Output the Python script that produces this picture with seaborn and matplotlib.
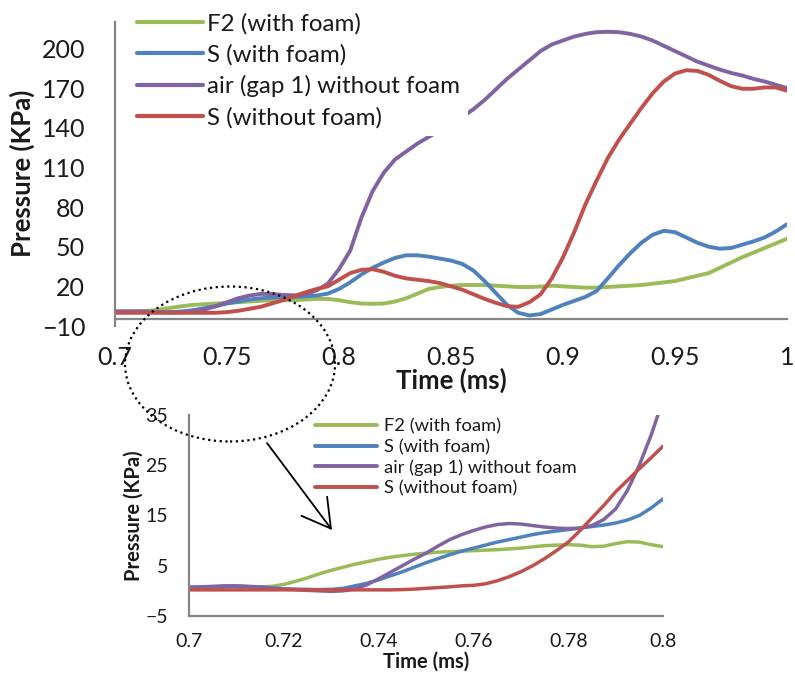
import numpy as np
import pandas as pd
import matplotlib
matplotlib.use("Agg")
import matplotlib.pyplot as plt
from matplotlib.patches import Ellipse
import seaborn as sns

# ---- main chart: 0.700 - 1.000 ms, sampled every 0.005 ms ----
time_main = np.round(np.arange(0.700, 1.0001, 0.005), 3)
f2_foam_main = [0.5, 0.6, 0.8, 1.5, 2.5, 3.8, 5, 6, 6.5, 7,
                7.5, 8, 8.5, 9, 9.5, 9.5, 9.5, 10, 10.5, 10.5,
                9.5, 8, 7, 6.8, 7, 8.5, 11, 14.5, 18, 19.5,
                20.5, 21, 21, 21, 20.5, 20, 19.5, 19.5, 19.8, 20.5,
                20, 19.5, 19, 19, 19.5, 20, 20.5, 21, 22, 23,
                24, 26, 28, 30, 34, 38, 42, 45.5, 49, 52.5,
                56]
s_foam_main = [1, 1, 1, 0.8, 0.5, 0.5, 1, 2, 3.5, 5,
               7, 8.5, 10, 11, 11.5, 12, 12, 12.5, 13, 14.5,
               18, 23, 29, 34, 38, 41.5, 43.5, 43.5, 42.5, 41,
               39.5, 37, 32, 24, 15, 6, 0, -2, -1, 2.5,
               6, 9, 12, 16.5, 26, 36, 45, 53, 59, 62,
               61, 57, 53, 50, 48.5, 49, 51.5, 54, 57, 61.5,
               67]
air_nofoam_main = [1, 1, 1, 0.8, 0.5, 0.3, 0.3, 0.8, 2.5, 5,
                   8, 11, 13, 14.3, 14.2, 13.5, 13.2, 14, 17, 22,
                   33, 47, 72, 92, 106, 116, 122, 128, 133, 138,
                   143, 148, 154, 161, 169, 177, 184, 191, 198, 203,
                   206, 209, 211, 212.3, 212.6, 212.3, 211, 209, 206, 202,
                   198, 194, 190, 187, 184, 181.5, 179.5, 177, 175, 172.5,
                   170]
s_nofoam_main = [0, 0, 0, 0, 0, 0, 0, 0, 0, 0,
                 0.5, 1.5, 3, 4.5, 7, 9.5, 12.5, 15.5, 18, 20,
                 25, 30, 32.5, 33, 31, 28, 26, 25, 24, 22.5,
                 20, 17.5, 14, 10.5, 7.5, 5, 4.5, 8, 14, 26,
                 42, 61, 82, 100, 117, 131, 143, 155, 166, 175,
                 181, 183.5, 183, 180, 175.5, 171.5, 169.5, 169.5, 170.5, 170.5,
                 168]

# ---- detail chart: 0.700 - 0.800 ms, sampled every 0.0025 ms ----
time_zoom = np.round(np.arange(0.700, 0.80001, 0.0025), 4)
f2_foam_zoom = [0.7, 0.75, 0.8, 0.85, 0.9, 0.85, 0.8, 0.9, 1.3, 1.9,
                2.6, 3.4, 4.1, 4.7, 5.3, 5.8, 6.3, 6.7, 7.0, 7.3,
                7.5, 7.7, 7.8, 7.9, 8.0, 8.1, 8.2, 8.35, 8.5, 8.75,
                9.0, 9.1, 9.2, 9.1, 8.8, 8.9, 9.4, 9.8, 9.7, 9.2,
                8.8]
s_foam_zoom = [0.7, 0.75, 0.8, 0.85, 0.9, 0.8, 0.6, 0.5, 0.4, 0.35,
               0.3, 0.25, 0.3, 0.5, 1.0, 1.5, 2.2, 3.0, 3.8, 4.7,
               5.6, 6.4, 7.2, 7.9, 8.5, 9.1, 9.7, 10.2, 10.7, 11.2,
               11.6, 11.9, 12.2, 12.5, 12.8, 13.1, 13.5, 14.1, 15.0, 16.5,
               18.3]
air_nofoam_zoom = [0.7, 0.8, 0.9, 1.0, 1.0, 0.9, 0.8, 0.6, 0.4, 0.25,
                   0.1, 0.0, -0.1, 0.0, 0.4, 1.2, 2.4, 3.7, 5.0, 6.3,
                   7.5, 8.9, 10.2, 11.2, 12.0, 12.7, 13.2, 13.4, 13.3, 13.0,
                   12.7, 12.5, 12.4, 12.5, 13.0, 14.2, 16.3, 20.0, 25.0, 31.0,
                   38.0]
s_nofoam_zoom = [0.2, 0.2, 0.2, 0.2, 0.2, 0.2, 0.2, 0.2, 0.2, 0.2,
                 0.2, 0.2, 0.2, 0.2, 0.2, 0.2, 0.2, 0.2, 0.25, 0.35,
                 0.5, 0.65, 0.8, 1.0, 1.1, 1.4, 2.0, 2.8, 3.8, 5.0,
                 6.4, 8.0, 9.7, 12.0, 14.5, 17.0, 19.7, 22.0, 24.3, 26.5,
                 28.8]

series_names = ["F2 (with foam)", "S (with foam)",
                "air (gap 1) without foam", "S (without foam)"]
series_colors = ["#9BBB59", "#4F81BD", "#8064A2", "#C0504D"]

main_yticks = [-10, 20, 50, 80, 110, 140, 170, 200]
main_xticks = [0.7, 0.75, 0.8, 0.85, 0.9, 0.95, 1.0]
main_xticklabels = ["0.7", "0.75", "0.8", "0.85", "0.9", "0.95", "1"]
zoom_yticks = [-5, 5, 15, 25, 35]
zoom_xticks = [0.7, 0.72, 0.74, 0.76, 0.78, 0.8]
zoom_xticklabels = ["0.7", "0.72", "0.74", "0.76", "0.78", "0.8"]


def long_form(t, cols):
    frames = []
    for name, vals in zip(series_names, cols):
        frames.append(pd.DataFrame({"time": t, "pressure": vals, "series": name}))
    return pd.concat(frames, ignore_index=True)


df_main = long_form(time_main, [f2_foam_main, s_foam_main, air_nofoam_main, s_nofoam_main])
df_zoom = long_form(time_zoom, [f2_foam_zoom, s_foam_zoom, air_nofoam_zoom, s_nofoam_zoom])
palette = dict(zip(series_names, series_colors))

sns.set_style("white")
plt.rcParams["font.family"] = ["Lato", "DejaVu Sans"]

W, H = 795, 675
fig = plt.figure(figsize=(W / 100, H / 100), dpi=100)


def px_axes(left, top, right, bottom):
    return fig.add_axes([left / W, 1 - bottom / H, (right - left) / W, (bottom - top) / H])


axis_grey = "#868686"
text_dark = "#1a1a1a"


def style_axes(ax, fs, xpad, ypad):
    for s in ("top", "right"):
        ax.spines[s].set_visible(False)
    for s in ("left", "bottom"):
        ax.spines[s].set_color(axis_grey)
        ax.spines[s].set_linewidth(1.6)
    ax.tick_params(axis="both", direction="in", length=6, width=1.6,
                   color=axis_grey, labelsize=fs, labelcolor=text_dark)
    ax.tick_params(axis="x", pad=xpad)
    ax.tick_params(axis="y", pad=ypad)
    ax.grid(False)
    ax.set_facecolor("none")


# ---- main chart ----
ax1 = px_axes(115, 22, 787, 326)
sns.lineplot(data=df_main, x="time", y="pressure", hue="series", palette=palette,
             hue_order=series_names, linewidth=2.8, legend=False, ax=ax1,
             estimator=None, sort=True)
ax1.set_xlim(0.7, 1.0)
ax1.set_ylim(-10, 220)
ax1.set_yticks(main_yticks)
ax1.set_xticks(main_xticks)
ax1.set_xticklabels(main_xticklabels)
ax1.spines["bottom"].set_position(("data", -5))
ax1.spines["left"].set_bounds(-10, 220)
style_axes(ax1, 18, 19, 21.5)
ax1.set_xlabel("Time (ms)", fontsize=18.5, fontweight="bold", color=text_dark)
ax1.set_ylabel("Pressure (KPa)", fontsize=18.5, fontweight="bold", color=text_dark)
ax1.xaxis.set_label_coords(0.5, -0.138)
ax1.yaxis.set_label_coords(-0.119, 0.502)

leg1 = ax1.legend(ax1.get_lines()[:4], series_names, loc="upper left",
                  bbox_to_anchor=(130 / W, 1 - 5.5 / H), bbox_transform=fig.transFigure,
                  fontsize=17.4, handlelength=2.7, handletextpad=0.2,
                  labelspacing=0.4, borderpad=0.3, borderaxespad=0,
                  frameon=True, fancybox=False, framealpha=1,
                  facecolor="white", edgecolor="none")
for ln in leg1.get_lines():
    ln.set_linewidth(3.0)
for t in leg1.get_texts():
    t.set_color(text_dark)

# ---- detail chart ----
ax2 = px_axes(189, 415, 663, 616)
sns.lineplot(data=df_zoom, x="time", y="pressure", hue="series", palette=palette,
             hue_order=series_names, linewidth=2.5, legend=False, ax=ax2,
             estimator=None, sort=True)
ax2.set_xlim(0.7, 0.8)
ax2.set_ylim(-5, 35)
ax2.set_yticks(zoom_yticks)
ax2.set_xticks(zoom_xticks)
ax2.set_xticklabels(zoom_xticklabels)
style_axes(ax2, 14, 12, 15)
ax2.set_xlabel("Time (ms)", fontsize=14.5, fontweight="bold", color=text_dark)
ax2.set_ylabel("Pressure (KPa)", fontsize=14.5, fontweight="bold", color=text_dark)
ax2.xaxis.set_label_coords(0.5, -0.178)
ax2.yaxis.set_label_coords(-0.095, 0.5)

leg2 = ax2.legend(ax2.get_lines()[:4], series_names, loc="upper left",
                  bbox_to_anchor=(309.5 / W, 1 - 413 / H), bbox_transform=fig.transFigure,
                  fontsize=13.2, handlelength=3.4, handletextpad=0.38,
                  labelspacing=0.23, borderpad=0.3, borderaxespad=0, frameon=False)
for ln in leg2.get_lines():
    ln.set_linewidth(2.8)
for t in leg2.get_texts():
    t.set_color(text_dark)

# ---- dotted ellipse marking the detail window, and the pointer arrow ----
ell = Ellipse((230, H - 364), 210, 155, transform=None, fill=False,
              edgecolor="black", linestyle=(0, (1, 1.6)), linewidth=1.6, zorder=10)
fig.patches.append(ell)
ax2.annotate("", xy=(332, H - 530), xytext=(267, H - 443),
             xycoords="figure pixels", textcoords="figure pixels",
             arrowprops=dict(arrowstyle="->,head_length=20,head_width=11.5",
                             mutation_scale=1, shrinkA=0, shrinkB=0,
                             color="black", linewidth=1.3),
             annotation_clip=False)

fig.savefig("out.png", dpi=100)
